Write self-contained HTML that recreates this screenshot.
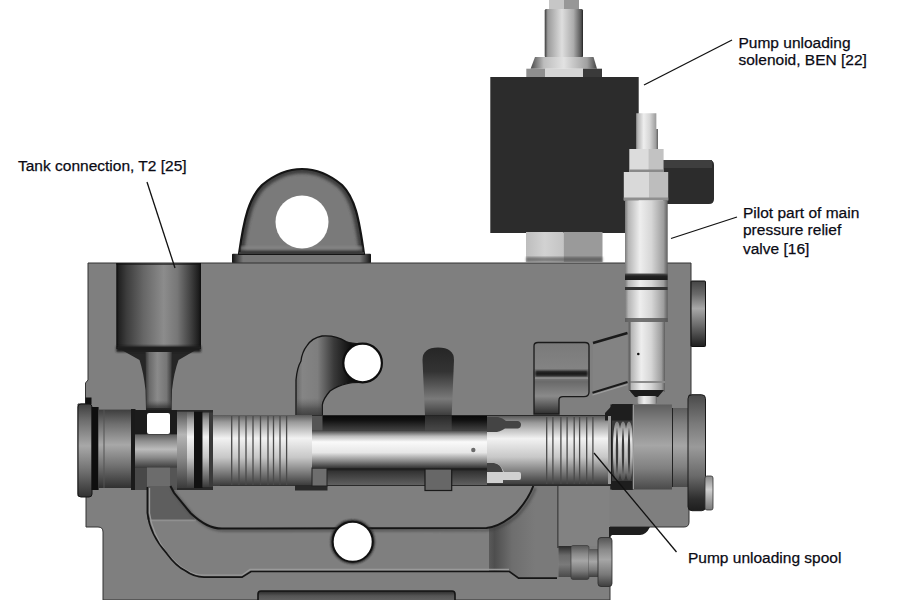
<!DOCTYPE html>
<html><head><meta charset="utf-8">
<style>
html,body{margin:0;padding:0;background:#fff;width:900px;height:600px;overflow:hidden}
svg{display:block}
.lbl{font-family:"Liberation Sans",sans-serif;font-size:15.5px;fill:#0a0a14;stroke:#0a0a14;stroke-width:0.25px}
</style></head>
<body>
<svg width="900" height="600" viewBox="0 0 900 600">
<defs>
  <linearGradient id="cylV" x1="0" y1="0" x2="0" y2="1">
    <stop offset="0" stop-color="#5a5a5a"/>
    <stop offset="0.1" stop-color="#999"/>
    <stop offset="0.33" stop-color="#f2f2f2"/>
    <stop offset="0.6" stop-color="#c8c8c8"/>
    <stop offset="0.85" stop-color="#707070"/>
    <stop offset="1" stop-color="#3a3a3a"/>
  </linearGradient>
  <linearGradient id="capV" x1="0" y1="0" x2="0" y2="1">
    <stop offset="0" stop-color="#3e3e3e"/>
    <stop offset="0.18" stop-color="#6e6e6e"/>
    <stop offset="0.45" stop-color="#a8a8a8"/>
    <stop offset="0.72" stop-color="#707070"/>
    <stop offset="1" stop-color="#303030"/>
  </linearGradient>
  <linearGradient id="cylH" x1="0" y1="0" x2="1" y2="0">
    <stop offset="0" stop-color="#7a7a7a"/>
    <stop offset="0.08" stop-color="#b5b5b5"/>
    <stop offset="0.35" stop-color="#eeeeee"/>
    <stop offset="0.62" stop-color="#d6d6d6"/>
    <stop offset="0.9" stop-color="#9e9e9e"/>
    <stop offset="1" stop-color="#5e5e5e"/>
  </linearGradient>
  <linearGradient id="tankG" x1="0" y1="0" x2="1" y2="0">
    <stop offset="0" stop-color="#0a0a0a"/>
    <stop offset="0.03" stop-color="#222"/>
    <stop offset="0.12" stop-color="#3c3c3c"/>
    <stop offset="0.32" stop-color="#666"/>
    <stop offset="0.56" stop-color="#8c8c8c"/>
    <stop offset="0.72" stop-color="#777"/>
    <stop offset="0.88" stop-color="#404040"/>
    <stop offset="0.97" stop-color="#1e1e1e"/>
    <stop offset="1" stop-color="#0e0e0e"/>
  </linearGradient>
  <linearGradient id="slotG" x1="0" y1="0" x2="0" y2="1">
    <stop offset="0" stop-color="#262626"/>
    <stop offset="0.35" stop-color="#333"/>
    <stop offset="0.75" stop-color="#7a7a7a"/>
    <stop offset="1" stop-color="#3a3a3a"/>
  </linearGradient>
  <filter id="blur2" x="-20%" y="-20%" width="140%" height="140%"><feGaussianBlur stdDeviation="1.6"/></filter>
  <filter id="blur1" x="-20%" y="-20%" width="140%" height="140%"><feGaussianBlur stdDeviation="0.8"/></filter>
  <filter id="blur4" x="-30%" y="-30%" width="160%" height="160%"><feGaussianBlur stdDeviation="4"/></filter>
  <linearGradient id="stemG" x1="0" y1="0" x2="1" y2="0">
    <stop offset="0" stop-color="#3a3a3a"/>
    <stop offset="0.08" stop-color="#9a9a9a"/>
    <stop offset="0.45" stop-color="#dedede"/>
    <stop offset="0.75" stop-color="#acacac"/>
    <stop offset="0.95" stop-color="#555"/>
    <stop offset="1" stop-color="#222"/>
  </linearGradient>
  <linearGradient id="flareG" x1="0" y1="0" x2="1" y2="0">
    <stop offset="0" stop-color="#4a4a4a"/>
    <stop offset="0.2" stop-color="#bdbdbd"/>
    <stop offset="0.5" stop-color="#e2e2e2"/>
    <stop offset="0.85" stop-color="#a0a0a0"/>
    <stop offset="1" stop-color="#444"/>
  </linearGradient>
  <linearGradient id="nutL" x1="0" y1="0" x2="1" y2="0">
    <stop offset="0" stop-color="#bdbdbd"/>
    <stop offset="0.5" stop-color="#d2d2d2"/>
    <stop offset="1" stop-color="#c4c4c4"/>
  </linearGradient>
  <linearGradient id="stemV" x1="0" y1="0" x2="0" y2="1">
    <stop offset="0" stop-color="#5a5a5a"/>
    <stop offset="0.2" stop-color="#8e8e8e"/>
    <stop offset="0.45" stop-color="#bcbcbc"/>
    <stop offset="0.7" stop-color="#8a8a8a"/>
    <stop offset="1" stop-color="#3e3e3e"/>
  </linearGradient>
  <linearGradient id="ringV" x1="0" y1="0" x2="0" y2="1">
    <stop offset="0" stop-color="#555"/>
    <stop offset="0.3" stop-color="#b5b5b5"/>
    <stop offset="0.6" stop-color="#8a8a8a"/>
    <stop offset="1" stop-color="#3a3a3a"/>
  </linearGradient>
  <linearGradient id="rodV" x1="0" y1="0" x2="0" y2="1">
    <stop offset="0" stop-color="#444"/>
    <stop offset="0.15" stop-color="#bbb"/>
    <stop offset="0.3" stop-color="#fafafa"/>
    <stop offset="0.58" stop-color="#e6e6e6"/>
    <stop offset="0.8" stop-color="#8a8a8a"/>
    <stop offset="1" stop-color="#2e2e2e"/>
  </linearGradient>
  <linearGradient id="gapTop" x1="0" y1="0" x2="0" y2="1">
    <stop offset="0" stop-color="#080808"/>
    <stop offset="0.3" stop-color="#111"/>
    <stop offset="1" stop-color="#444"/>
  </linearGradient>
  <linearGradient id="gapBot" x1="0" y1="0" x2="0" y2="1">
    <stop offset="0" stop-color="#111"/>
    <stop offset="0.2" stop-color="#333"/>
    <stop offset="1" stop-color="#606060"/>
  </linearGradient>
  <linearGradient id="slotUp" x1="0" y1="0" x2="0" y2="1">
    <stop offset="0" stop-color="#2a2a2a"/>
    <stop offset="1" stop-color="#4a4a4a"/>
  </linearGradient>
  <linearGradient id="bigcapV" x1="0" y1="0" x2="0" y2="1">
    <stop offset="0" stop-color="#5e5e5e"/>
    <stop offset="0.2" stop-color="#808080"/>
    <stop offset="0.48" stop-color="#a6a6a6"/>
    <stop offset="0.75" stop-color="#808080"/>
    <stop offset="1" stop-color="#4a4a4a"/>
  </linearGradient>
  <linearGradient id="pinV" x1="0" y1="0" x2="0" y2="1">
    <stop offset="0" stop-color="#888"/>
    <stop offset="0.4" stop-color="#d0d0d0"/>
    <stop offset="1" stop-color="#777"/>
  </linearGradient>
  <linearGradient id="chanG" gradientUnits="userSpaceOnUse" x1="296" y1="0" x2="350" y2="0">
    <stop offset="0" stop-color="#6a6a6a"/>
    <stop offset="0.12" stop-color="#858585"/>
    <stop offset="0.4" stop-color="#7e7e7e"/>
    <stop offset="0.7" stop-color="#3a3a3a"/>
    <stop offset="1" stop-color="#101010"/>
  </linearGradient>
  <linearGradient id="pocketG" x1="0" y1="0" x2="0" y2="1">
    <stop offset="0" stop-color="#7a7a7a"/>
    <stop offset="0.45" stop-color="#858585"/>
    <stop offset="0.55" stop-color="#6a6a6a"/>
    <stop offset="0.75" stop-color="#8a8a8a"/>
    <stop offset="1" stop-color="#2e2e2e"/>
  </linearGradient>
  <linearGradient id="rcapV" x1="0" y1="0" x2="0" y2="1">
    <stop offset="0" stop-color="#444"/>
    <stop offset="0.2" stop-color="#6a6a6a"/>
    <stop offset="0.42" stop-color="#a8a8a8"/>
    <stop offset="0.75" stop-color="#5a5a5a"/>
    <stop offset="1" stop-color="#1e1e1e"/>
  </linearGradient>
  <linearGradient id="wallG" gradientUnits="userSpaceOnUse" x1="489" y1="0" x2="535" y2="0">
    <stop offset="0" stop-color="#5a5a5a"/>
    <stop offset="0.12" stop-color="#4e4e4e"/>
    <stop offset="0.5" stop-color="#6e6e6e"/>
    <stop offset="1" stop-color="#7a7a7a"/>
  </linearGradient>
  <linearGradient id="neckG" x1="0" y1="0" x2="1" y2="0">
    <stop offset="0" stop-color="#3a3a3a"/>
    <stop offset="0.15" stop-color="#6a6a6a"/>
    <stop offset="0.45" stop-color="#8a8a8a"/>
    <stop offset="0.8" stop-color="#767676"/>
    <stop offset="1" stop-color="#3a3a3a"/>
  </linearGradient>
  <linearGradient id="neckBot" x1="0" y1="0" x2="0" y2="1">
    <stop offset="0" stop-color="#555" stop-opacity="0"/>
    <stop offset="0.6" stop-color="#333" stop-opacity="0.8"/>
    <stop offset="1" stop-color="#222"/>
  </linearGradient>
  <linearGradient id="darkBand" x1="0" y1="0" x2="0" y2="1">
    <stop offset="0" stop-color="#555"/>
    <stop offset="0.4" stop-color="#222"/>
    <stop offset="1" stop-color="#1a1a1a"/>
  </linearGradient>
  <linearGradient id="springG" gradientUnits="userSpaceOnUse" x1="0" y1="421" x2="0" y2="481">
    <stop offset="0" stop-color="#777"/>
    <stop offset="0.3" stop-color="#e6e6e6"/>
    <stop offset="0.6" stop-color="#bbb"/>
    <stop offset="1" stop-color="#444"/>
  </linearGradient>
  <linearGradient id="plugV" x1="0" y1="0" x2="0" y2="1">
    <stop offset="0" stop-color="#555"/>
    <stop offset="0.25" stop-color="#8a8a8a"/>
    <stop offset="0.45" stop-color="#a6a6a6"/>
    <stop offset="0.75" stop-color="#7a7a7a"/>
    <stop offset="1" stop-color="#3e3e3e"/>
  </linearGradient>
  <linearGradient id="plugDark" x1="0" y1="0" x2="0" y2="1">
    <stop offset="0" stop-color="#2a2a2a"/>
    <stop offset="0.3" stop-color="#6a6a6a"/>
    <stop offset="0.6" stop-color="#7a7a7a"/>
    <stop offset="1" stop-color="#4a4a4a"/>
  </linearGradient>
  <linearGradient id="outcapV" x1="0" y1="0" x2="0" y2="1">
    <stop offset="0" stop-color="#4a4a4a"/>
    <stop offset="0.25" stop-color="#7a7a7a"/>
    <stop offset="0.45" stop-color="#9a9a9a"/>
    <stop offset="0.7" stop-color="#6a6a6a"/>
    <stop offset="0.9" stop-color="#2e2e2e"/>
    <stop offset="1" stop-color="#1e1e1e"/>
  </linearGradient>
  <linearGradient id="bslotG" x1="0" y1="0" x2="0" y2="1">
    <stop offset="0" stop-color="#2a2a2a"/>
    <stop offset="0.35" stop-color="#555"/>
    <stop offset="1" stop-color="#6e6e6e"/>
  </linearGradient>
  <linearGradient id="footG" x1="0" y1="0" x2="1" y2="0">
    <stop offset="0" stop-color="#111"/>
    <stop offset="0.03" stop-color="#3a3a3a"/>
    <stop offset="0.08" stop-color="#777"/>
    <stop offset="0.92" stop-color="#777"/>
    <stop offset="0.97" stop-color="#3a3a3a"/>
    <stop offset="1" stop-color="#111"/>
  </linearGradient>
</defs>
<rect width="900" height="600" fill="#fff"/>

<!-- ===== SOLENOID ===== -->
<rect x="549" y="0" width="15" height="9.5" fill="#c6c6c6"/>
<rect x="564" y="0" width="15" height="9.5" fill="#979797"/>
<rect x="544.7" y="9" width="38.3" height="48.5" rx="1.5" fill="url(#stemG)"/>
<path d="M535,57 L593.5,57 L597,68.7 L530.6,68.7 Z" fill="url(#flareG)"/>
<rect x="526.3" y="68.7" width="19" height="8.6" fill="#8f8f8f"/>
<rect x="545" y="68.7" width="38" height="8.6" fill="#d5d5d5"/>
<rect x="583" y="68.7" width="19" height="8.6" fill="#3a3a3a"/>
<rect x="490.3" y="77" width="148.4" height="156" fill="#2c2c2c"/>
<rect x="526" y="232" width="37.5" height="30" fill="url(#nutL)"/>
<rect x="563.5" y="232" width="39" height="30" fill="#9a9a9a"/>
<rect x="526" y="257" width="76.5" height="5" fill="#3a3a3a" opacity="0.55" filter="url(#blur1)"/>
<!-- connector -->
<path d="M663,160 L709,160 Q714,160 714,165 L714,199 Q714,204 709,204 L663,204 Z" fill="#2c2c2c"/>
<rect x="664" y="160" width="48" height="8" fill="#3e3e3e"/>

<!-- ===== LUG ===== -->
<rect x="232" y="253.8" width="139" height="9.5" rx="1" fill="url(#footG)"/>
<clipPath id="lugClip"><path d="M239,254 C244,218 249,198 262,185 Q281,169 302,169 Q323,169 342,185 C355,198 359,218 364,254 Z"/></clipPath>
<path d="M239,254 C244,218 249,198 262,185 Q281,169 302,169 Q323,169 342,185 C355,198 359,218 364,254 Z" fill="#7a7a7a"/>
<path d="M239,254 C244,218 249,198 262,185 Q281,169 302,169 Q323,169 342,185 C355,198 359,218 364,254 Z" fill="none" stroke="#3c3c3c" stroke-width="9" clip-path="url(#lugClip)" filter="url(#blur2)"/>
<path d="M239,254 C244,218 249,198 262,185 Q281,169 302,169 Q323,169 342,185 C355,198 359,218 364,254 Z" fill="none" stroke="#151515" stroke-width="2.2"/>
<rect x="241" y="246" width="121" height="4" fill="#8a8a8a" opacity="0.7" filter="url(#blur1)"/>
<line x1="239" y1="253" x2="364" y2="253" stroke="#3a3a3a" stroke-width="2.2"/>
<circle cx="302" cy="222" r="26.5" fill="#fff"/>
<!-- ===== BODY ===== -->
<path d="M88,263 L691,263 L691,395 L689,395 L689,522 Q689,527 684,527 L610,527 L610,600 L103,600 L103,532 Q103,527 98,527 L86,527 L86,496 L78,496 L78,404 L85.5,404 L85.5,383 L88,380 Z" fill="#7f7f7f" stroke="#333" stroke-width="1"/>

<rect x="85.5" y="397.5" width="6" height="6.5" fill="#111"/>
<!-- tank cavity -->
<rect x="116.3" y="263" width="84.7" height="86" fill="url(#tankG)"/>
<rect x="116.3" y="263" width="84.7" height="2" fill="#111" opacity="0.6"/>
<path d="M116.3,347 L201,347 L178.6,360 Q174,372 172,390 L171.5,410 L146,410 L145.5,390 Q143.5,372 139.5,360 Z" fill="#262626"/>
<rect x="116.3" y="346" width="84.7" height="6" fill="#1e1e1e" filter="url(#blur1)"/>
<path d="M145.5,352 L171.8,352 L171,408 L146.5,408 Z" fill="url(#neckG)"/>
<rect x="146" y="400" width="25.5" height="10" fill="url(#neckBot)" opacity="0.8"/>

<!-- hole 2 + curved channel -->
<path d="M296,416 L296,380 Q297,368 301,361 Q302,352 307,345.6 Q312,338 322,336 Q336,335 346,341.6 Q352,344 362.6,343.7 L362.6,382.3 Q352,382 347,383.6 Q337,386 330,391 Q323,399 322.3,405 L322.3,416 Z" fill="url(#chanG)" stroke="#151515" stroke-width="1.3"/>
<rect x="296.7" y="398" width="25" height="18" fill="url(#neckBot)" opacity="0.7"/>
<circle cx="362.6" cy="363" r="19.3" fill="#fff" stroke="#0e0e0e" stroke-width="2.2"/>
<!-- slot -->
<path d="M425,416 L422.5,360 Q422.5,347.5 438,347.5 Q454,347.5 454,360 L451.7,416 Z" fill="url(#slotG)"/>

<!-- pocket -->
<path d="M534,414 L534,346 Q534,342.5 538,342.5 L585,342.5 Q589,342.5 589,346 L589,392 Q589,396.7 584,396.7 L563,396.7 Q559,396.7 559,400 L559,414 Z" fill="url(#pocketG)" stroke="#1a1a1a" stroke-width="1.3"/>
<rect x="535" y="370.5" width="53" height="6" fill="#1e1e1e" filter="url(#blur1)"/>
<rect x="535" y="377" width="53" height="2" fill="#9a9a9a" opacity="0.6"/>
<!-- inclined channel -->
<path d="M593,342.5 L627.5,332.5 L627.5,382.5 L592.5,393.3 Z" fill="#838383"/>
<line x1="593" y1="343" x2="627.5" y2="333" stroke="#1a1a1a" stroke-width="2.5"/>
<line x1="592.5" y1="392.8" x2="627.5" y2="382" stroke="#1a1a1a" stroke-width="2"/>
<line x1="592.5" y1="395" x2="627.5" y2="384.5" stroke="#a0a0a0" stroke-width="1.2"/>

<!-- right top cap -->
<rect x="691" y="281" width="14.5" height="65.5" rx="0.8" fill="url(#rcapV)" stroke="#111" stroke-width="1"/>

<!-- ===== PILOT VALVE ===== -->
<path d="M636,113.3 L656.3,113.3 L656.3,129 L658,129 L658,149 L636,149 Z" fill="url(#cylH)"/>
<rect x="629.3" y="149" width="19" height="23" fill="#dcdcdc"/>
<rect x="648.3" y="149" width="15.3" height="23" fill="#c2c2c2"/>
<rect x="629.3" y="169.5" width="34.3" height="2.5" fill="#8a8a8a"/>
<rect x="623.8" y="172" width="25.2" height="28.4" fill="#d9d9d9"/>
<rect x="649" y="172" width="19.2" height="28.4" fill="#bdbdbd"/>
<rect x="623.8" y="197.5" width="44.4" height="3" fill="#8f8f8f"/>
<rect x="625" y="200.4" width="42.7" height="74" fill="url(#cylH)"/>
<rect x="625" y="273.5" width="42.7" height="6.5" fill="url(#darkBand)"/>
<rect x="625" y="280" width="42.7" height="7" fill="url(#cylH)"/>
<rect x="625" y="287" width="42.7" height="3" fill="#333"/>
<rect x="625" y="290" width="42.7" height="6" fill="url(#cylH)"/>
<rect x="625" y="296" width="42.7" height="26" fill="url(#cylH)"/>
<rect x="625" y="318" width="42.7" height="4" fill="#555" opacity="0.8"/>
<rect x="628.5" y="322" width="36.5" height="70" fill="url(#cylH)"/>
<rect x="628.5" y="381" width="36.5" height="2" fill="#8a8a8a"/><rect x="628.5" y="322" width="2" height="68" fill="#666"/>
<path d="M629,390 L664,390 L658,397 L635,397 Z" fill="#1c1c1c"/>
<rect x="637" y="396" width="20" height="8" rx="2" fill="url(#cylH)"/>
<circle cx="638.3" cy="354" r="1.3" fill="#111"/>

<!-- ===== BORE / SPOOL ===== -->
<!-- bore background -->
<path d="M131,410 L213,410 L213,415 L612,415 L612,404 L633,404 L633,490 L612,490 L612,486 L213,486 L213,490 L131,490 Z" fill="#2a2a2a"/>
<!-- end cap -->
<rect x="78" y="404" width="14" height="93" rx="3" fill="url(#capV)" stroke="#151515" stroke-width="1"/>
<rect x="91.6" y="407" width="7" height="83" fill="#0e0e0e"/>
<rect x="98.4" y="409.6" width="33" height="78.4" fill="url(#capV)"/>
<line x1="104" y1="410" x2="104" y2="488" stroke="#555" stroke-width="1"/>
<rect x="131" y="409" width="4.5" height="81" fill="#1a1a1a"/>
<rect x="135" y="410" width="42" height="24.5" fill="#1c1c1c"/>
<rect x="147" y="413" width="23" height="21" rx="2" fill="#fff"/>
<rect x="135" y="434.4" width="42" height="33" fill="url(#stemV)"/>
<rect x="135" y="467.4" width="12" height="22.6" fill="#484848"/>
<rect x="147" y="467.4" width="23" height="22.6" fill="#6c6c6c"/>
<rect x="170" y="467.4" width="7" height="22.6" fill="#555"/>
<!-- flange rings -->
<rect x="177" y="411.7" width="10" height="76.3" fill="url(#ringV)"/>
<rect x="187" y="411.7" width="7" height="76.3" fill="url(#cylV)"/>
<rect x="194" y="411.7" width="8.5" height="76.3" fill="#111"/>
<rect x="202.5" y="412.5" width="6.5" height="74.5" fill="url(#cylV)"/>
<rect x="209" y="412.5" width="4" height="74.5" fill="#3a3a3a"/>
<rect x="213" y="415" width="7" height="71" fill="url(#cylV)"/>
<!-- threaded part -->
<rect x="220" y="415" width="92" height="70.5" fill="url(#cylV)"/>
<g stroke="#4a4a4a" stroke-width="1.3"><line x1="231.7" y1="416" x2="231.7" y2="485"/><line x1="239" y1="416" x2="239" y2="485"/><line x1="246" y1="416" x2="246" y2="485"/><line x1="253" y1="416" x2="253" y2="485"/><line x1="260.5" y1="416" x2="260.5" y2="485"/><line x1="268" y1="416" x2="268" y2="485"/><line x1="273.5" y1="416" x2="273.5" y2="485"/><line x1="280" y1="416" x2="280" y2="485"/><line x1="286.6" y1="416" x2="286.6" y2="485"/></g>
<!-- slim rod region -->
<rect x="312" y="415.8" width="175" height="15" fill="url(#gapTop)"/>
<rect x="312" y="468" width="175" height="17" fill="url(#gapBot)"/>
<rect x="312" y="415.8" width="10.5" height="15" fill="#555"/>
<rect x="295" y="485" width="32.5" height="5.5" fill="#2a2a2a"/>
<rect x="312" y="468" width="15" height="18" fill="#6e6e6e" stroke="#222" stroke-width="1"/>
<rect x="425" y="415.8" width="26.7" height="15" fill="url(#slotUp)"/>
<rect x="425" y="469" width="26.7" height="21.5" fill="#676767" stroke="#1a1a1a" stroke-width="1.2"/>
<rect x="312" y="430.5" width="175" height="38" fill="url(#rodV)"/>
<circle cx="473.3" cy="450" r="2.2" fill="#6a6a6a"/>
<!-- right spool section -->
<rect x="487" y="416" width="123" height="68.4" fill="url(#cylV)"/>
<path d="M487,417 L498,417 Q503,418 506,421 L518,421 Q521,422 521,424.5 Q521,428 518,428.4 L505,428.4 Q500,432 494,432 L487,432 Z" fill="#444"/>
<path d="M487,463 L494,463 Q500,463 504,472 L519,472 Q521,472 521,474 L521,478 Q521,480 519,480 L503,480 L503,483 L487,483 Z" fill="#d0d0d0"/>
<path d="M487,463 L494,463 Q501,464 503,472 L487,472 Z" fill="#444"/>
<g stroke="#4a4a4a" stroke-width="1.3"><line x1="546.7" y1="417" x2="546.7" y2="484"/><line x1="552.9" y1="417" x2="552.9" y2="484"/><line x1="560.9" y1="417" x2="560.9" y2="484"/><line x1="567.1" y1="417" x2="567.1" y2="484"/><line x1="574.2" y1="417" x2="574.2" y2="484"/><line x1="579.6" y1="417" x2="579.6" y2="484"/><line x1="586.7" y1="417" x2="586.7" y2="484"/><line x1="592.9" y1="417" x2="592.9" y2="484"/></g>
<!-- spring -->
<rect x="610.5" y="404.4" width="22" height="85" fill="#1e1e1e"/>
<rect x="612" y="420" width="20" height="62" fill="#3a3a3a"/>
<g stroke="url(#springG)" stroke-width="2.8" fill="none">
  <ellipse cx="617" cy="451" rx="2.6" ry="28"/>
  <ellipse cx="623" cy="451" rx="2.6" ry="28"/>
  <ellipse cx="629" cy="451" rx="2.6" ry="28"/>
</g>
<path d="M613,404.4 L632.5,404.4 L632.5,420.4 L605,420.4 L605,413 Z" fill="#1e1e1e"/>
<rect x="610.5" y="481" width="22" height="8.5" fill="#1e1e1e"/>
<rect x="608" y="416" width="3" height="68" fill="#9a9a9a"/>
<!-- right caps -->
<rect x="632.5" y="404.5" width="39.5" height="85" fill="url(#bigcapV)"/>
<line x1="633.5" y1="405" x2="633.5" y2="489" stroke="#9a9a9a" stroke-width="1"/>
<rect x="672" y="408" width="16" height="79" fill="url(#bigcapV)"/>
<line x1="672.5" y1="408" x2="672.5" y2="487" stroke="#222" stroke-width="1"/>
<rect x="688" y="394.7" width="17.5" height="116" rx="4" fill="url(#outcapV)" stroke="#1a1a1a" stroke-width="1"/>
<rect x="705" y="476" width="8" height="34" rx="2" fill="url(#pinV)" stroke="#333" stroke-width="0.8"/>

<!-- ===== LOWER CHANNEL ===== -->
<path d="M147.4,486 L170.4,486 L174,492.8 L190.5,513 L195,519.4 L147.4,519.4 Z" fill="#5e5e5e"/>
<line x1="147.4" y1="520.4" x2="196" y2="520.4" stroke="#909090" stroke-width="1.5"/>
<path d="M533.3,486 L558,486 L558,578 L518.6,578 L509.4,571.5 L489,571.5 L489,528 Q500,527 516,513 Q528,500 533.3,486 Z" fill="url(#wallG)"/>
<path d="M558,486 L558,548" stroke="#2a2a2a" stroke-width="1.2"/>
<rect x="558.6" y="486" width="51" height="60" fill="#828282"/>
<!-- highlight lines -->
<path d="M149.5,488 L149.5,513 Q152,533 167,553.4 Q178,566 186,570 Q195,575.5 204,575.2 L242,575.2 L250,569.5 L509,569.5" fill="none" stroke="#9a9a9a" stroke-width="1.3"/>
<!-- dark edges -->
<path d="M147.4,487 L147.4,513 Q150,535 166.7,553.4 Q176,566 185,570.5 Q194,577 204,577.2 L242,577.2 L251,571.5 L509.4,571.5 L518.6,578.2 L557,578.2" fill="none" stroke="#151515" stroke-width="1.7"/>
<path d="M172,488 L176,494.8 L192.5,515 Q201,523 209,527 Q216,530.6 224,530.6 L486.5,530 Q502,529 518,515 Q530,502 535.3,488" fill="none" stroke="#3a3a3a" stroke-width="3" opacity="0.5" filter="url(#blur1)"/>
<path d="M170.4,486 L174,492.8 L190.5,513 Q199,521 207,525 Q214,528.6 222,528.6 L486.5,528 Q500,527 516,513 Q528,500 533.3,486" fill="none" stroke="#151515" stroke-width="2"/>
<circle cx="352.7" cy="541.7" r="20.5" fill="none" stroke="#222" stroke-width="3" filter="url(#blur1)"/>
<circle cx="352.7" cy="541.7" r="20" fill="#fff" stroke="#111" stroke-width="2"/>
<rect x="258" y="591" width="197" height="14" rx="3" fill="url(#bslotG)" stroke="#151515" stroke-width="1.6"/>
<!-- plug -->
<rect x="558.5" y="546" width="13" height="31" fill="url(#plugDark)"/>
<rect x="571" y="545.5" width="18" height="34" rx="2" fill="url(#plugV)" stroke="#333" stroke-width="0.6"/>
<rect x="589" y="549" width="9.5" height="28" fill="url(#plugV)"/>
<rect x="598" y="537.5" width="14" height="49" rx="3" fill="url(#plugV)" stroke="#2a2a2a" stroke-width="0.8"/>
<path d="M609,527 L650,527 Q646,535 640,535 L612,535 Q610,537 609,538 Z" fill="#1e1e1e"/>

<!-- ===== LABELS ===== -->
<g stroke="#111" stroke-width="1.3">
  <line x1="147" y1="182" x2="175" y2="268"/>
  <line x1="732" y1="40" x2="644" y2="85"/>
  <line x1="737" y1="217" x2="671" y2="238.5"/>
  <line x1="594" y1="453" x2="676.5" y2="552"/>
</g>
<text class="lbl" x="18" y="171.3">Tank connection, T2 [25]</text>
<text class="lbl" x="738.5" y="48">Pump unloading</text>
<text class="lbl" x="738.5" y="64.5">solenoid, BEN [22]</text>
<text class="lbl" x="743" y="217.5">Pilot part of main</text>
<text class="lbl" x="743" y="235">pressure relief</text>
<text class="lbl" x="743" y="254">valve [16]</text>
<text class="lbl" x="688" y="563">Pump unloading spool</text>
</svg>
</body></html>
